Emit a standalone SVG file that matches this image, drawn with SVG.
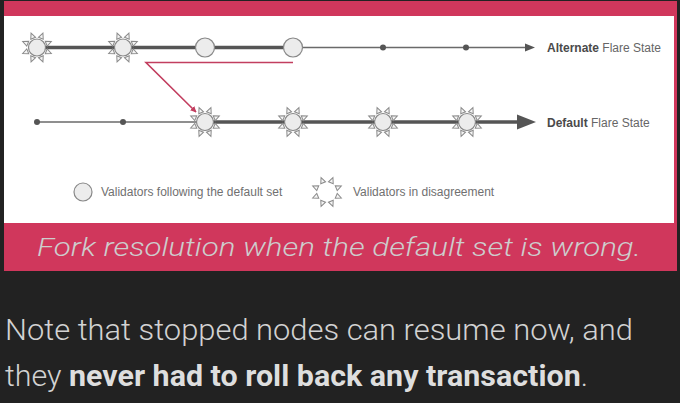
<svg xmlns="http://www.w3.org/2000/svg" xmlns:xlink="http://www.w3.org/1999/xlink" width="680" height="403" viewBox="0 0 680 403">
<style>
.thick{stroke:#555;stroke-width:3.5;fill:none}
.thin{stroke:#6a6a6a;stroke-width:1.5;fill:none}
.dot{fill:#555}
.core{fill:#ececec;stroke:#888;stroke-width:1.2}
.tri{fill:#f4f4f4;stroke:#8a8a8a;stroke-width:1}
.lbl{font-family:"Liberation Sans",Arial,sans-serif;font-size:12px;fill:#666}
.b{font-weight:bold;fill:#4a4a4a}
.leg{font-family:"Liberation Sans",Arial,sans-serif;font-size:12px;fill:#707070}
.cap{font-family:Roboto,"Noto Sans",sans-serif;font-style:italic;font-weight:300;font-size:26px;fill:#cdcdcd}
.body{font-family:Roboto,"Noto Sans",sans-serif;font-weight:300;font-size:29px;fill:#d2d2d2}
</style>
<defs>
<polygon id="t" class="tri" points="-2.6,-10 2.6,-10 0,-15.5"/>
<g id="burst">
<use xlink:href="#t" transform="rotate(22.5)"/>
<use xlink:href="#t" transform="rotate(67.5)"/>
<use xlink:href="#t" transform="rotate(112.5)"/>
<use xlink:href="#t" transform="rotate(157.5)"/>
<use xlink:href="#t" transform="rotate(202.5)"/>
<use xlink:href="#t" transform="rotate(247.5)"/>
<use xlink:href="#t" transform="rotate(292.5)"/>
<use xlink:href="#t" transform="rotate(337.5)"/>
</g>
<g id="sun"><use xlink:href="#burst"/><circle class="core" r="8.5"/></g>
<marker id="ahRed" viewBox="0 0 10 10" refX="9" refY="5" markerWidth="6" markerHeight="6" orient="auto" markerUnits="userSpaceOnUse"><path d="M0,0 L10,5 L0,10 z" fill="#c23e5f"/></marker>
</defs>
<rect width="680" height="403" fill="#222"/>
<rect x="4" y="1" width="673" height="270" fill="#d0375c"/>
<rect x="4" y="16" width="670" height="207" fill="#fff"/>

<g id="connectors">
<line class="thick" x1="37" y1="47.5" x2="293" y2="47.5"/>
<line class="thin" x1="293" y1="47.5" x2="527" y2="47.5"/>
<path d="M525,43.5 L535,47.5 L525,51.5 z" fill="#555"/>
<line class="thin" x1="37" y1="122" x2="205" y2="122"/>
<line class="thick" x1="205" y1="122" x2="519" y2="122"/>
<path d="M517,114.5 L536,122 L517,129.5 z" fill="#555"/>
<path d="M293,62.5 L146,62.5 L196,112" fill="none" stroke="#c23e5f" stroke-width="1.6" marker-end="url(#ahRed)"/>
</g>

<g id="alt-n1"><use xlink:href="#sun" x="37" y="47.5"/></g>
<g id="alt-n2"><use xlink:href="#sun" x="123" y="47.5"/></g>
<g id="alt-n3"><circle class="core" cx="205" cy="47.5" r="9.5"/></g>
<g id="alt-n4"><circle class="core" cx="293" cy="47.5" r="9.5"/></g>
<g id="alt-d1"><circle class="dot" cx="383" cy="47.5" r="3"/></g>
<g id="alt-d2"><circle class="dot" cx="466" cy="47.5" r="3"/></g>
<g id="alt-label"><text class="lbl" x="547" y="52"><tspan class="b">Alternate</tspan> Flare State</text></g>

<g id="def-d1"><circle class="dot" cx="37" cy="122" r="3"/></g>
<g id="def-d2"><circle class="dot" cx="123" cy="122" r="3"/></g>
<g id="def-n1"><use xlink:href="#sun" x="205" y="122"/></g>
<g id="def-n2"><use xlink:href="#sun" x="293" y="122"/></g>
<g id="def-n3"><use xlink:href="#sun" x="383" y="122"/></g>
<g id="def-n4"><use xlink:href="#sun" x="467" y="122"/></g>
<g id="def-label"><text class="lbl" x="547" y="126.5"><tspan class="b">Default</tspan> Flare State</text></g>

<g id="legend">
<circle class="core" cx="83" cy="192" r="9"/>
<text class="leg" x="101" y="196">Validators following the default set</text>
<use xlink:href="#burst" x="327" y="192"/>
<text class="leg" x="353" y="196">Validators in disagreement</text>
</g>

<text class="cap" x="37" y="256" textLength="604" lengthAdjust="spacingAndGlyphs">Fork resolution when the default set is wrong.</text>
<text class="body" x="5" y="340" textLength="628" lengthAdjust="spacingAndGlyphs">Note that stopped nodes can resume now, and</text>
<text class="body" x="5" y="386" textLength="583" lengthAdjust="spacingAndGlyphs">they <tspan font-weight="700" fill="#dedede">never had to roll back any transaction</tspan>.</text>
</svg>
